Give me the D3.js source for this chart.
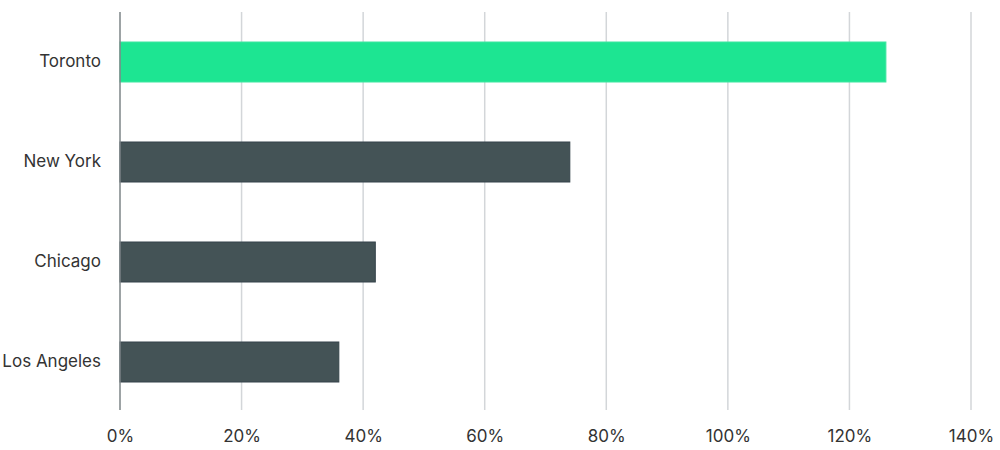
<!DOCTYPE html>
<html lang="en">
  <head>
    <meta charset="UTF-8" />
    <title>City bar chart</title>
    <script src="https://d3js.org/d3.v7.min.js"></script>
    <style>
      body { margin: 0; background: #ffffff; }
      .main { display: block; }
      text { font-family: "Inter", "Noto Sans", sans-serif; fill: #333333; }
    </style>
  </head>
  <body>
    <svg id="chart" class="main" width="1000" height="450"></svg>
    <script>
      const cities = ["Toronto", "New York", "Chicago", "Los Angeles"];
      const growth = [126, 74, 42, 36];
      const highlight = ["Toronto"];
      const xTicks = [0, 20, 40, 60, 80, 100, 120, 140];

      const width = 1000;
      const height = 450;
      const margin = { top: 12, right: 29, bottom: 40, left: 120 };

      const svg = d3.select("#chart");

      const x = d3.scaleLinear()
        .domain([0, 140])
        .range([margin.left, width - margin.right]);

      const y = d3.scaleBand()
        .domain(cities)
        .range([margin.top, margin.top + 400])
        .paddingInner(0.6)
        .paddingOuter(0.3);

      // vertical grid lines
      svg.append("g")
        .selectAll("line")
        .data(xTicks.slice(1))
        .enter()
        .append("line")
        .attr("x1", d => x(d))
        .attr("x2", d => x(d))
        .attr("y1", margin.top)
        .attr("y2", height - margin.bottom)
        .attr("stroke", "#d3d6d9")
        .attr("stroke-width", 1.5);

      // bars
      svg.append("g")
        .selectAll("rect")
        .data(cities)
        .enter()
        .append("rect")
        .attr("x", x(0))
        .attr("y", d => y(d))
        .attr("width", (d, i) => x(growth[i]) - x(0))
        .attr("height", y.bandwidth())
        .attr("fill", d => highlight.includes(d) ? "#1de592" : "#445356")
        .attr("stroke", d => highlight.includes(d) ? "#3ee6a0" : "#35434a")
        .attr("stroke-width", 1);

      // zero axis line
      svg.append("line")
        .attr("x1", x(0))
        .attr("x2", x(0))
        .attr("y1", margin.top)
        .attr("y2", height - margin.bottom)
        .attr("stroke", "#7d8587")
        .attr("stroke-width", 1.5);

      // x tick labels
      const xAxis = svg.append("g")
        .attr("transform", `translate(0,${height - margin.bottom + 17})`)
        .call(d3.axisBottom(x).tickValues(xTicks).tickFormat(d => d + "%").tickSize(0));
      xAxis.select(".domain").remove();
      xAxis.selectAll("text")
        .attr("font-size", 17)
        .attr("font-family", "Inter, 'Noto Sans', sans-serif")
        .attr("fill", "#333333");

      // city labels
      const yAxis = svg.append("g")
        .attr("transform", `translate(${margin.left - 16},0)`)
        .call(d3.axisLeft(y).tickSize(0));
      yAxis.select(".domain").remove();
      yAxis.selectAll("text")
        .attr("font-size", 17)
        .attr("font-family", "Inter, 'Noto Sans', sans-serif")
        .attr("fill", "#333333");
    </script>
  </body>
</html>
